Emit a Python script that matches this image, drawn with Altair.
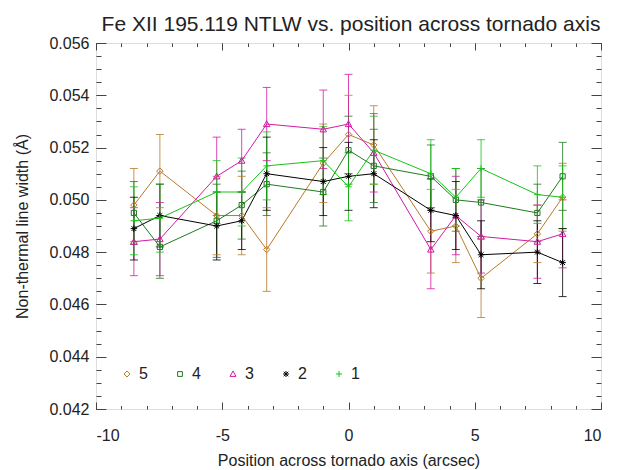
import altair as alt
import pandas as pd

# ---------------- data ----------------
positions = [-8.5, -7.47, -5.22, -4.23, -3.24, -1.0, 0.0, 1.0, 3.26, 4.25, 5.25, 7.48, 8.48]
series_names = ["5", "4", "3", "2", "1"]
series_colors = ["#B8792A", "#1E7B1E", "#D21AA5", "#000000", "#16C416"]

s5 = [0.0498, 0.0511, 0.0494, 0.0494, 0.0481, 0.0514, 0.0525, 0.0521, 0.0488, 0.0490, 0.0470, 0.0487, 0.0501]
e5 = [0.0014, 0.0014, 0.0015, 0.0015, 0.0016, 0.0015, 0.0015, 0.0015, 0.0016, 0.0014, 0.0015, 0.0011, 0.0013]
s4 = [0.0495, 0.0482, 0.0492, 0.0498, 0.0506, 0.0503, 0.0519, 0.0513, 0.0509, 0.0500, 0.0499, 0.0495, 0.0509]
e4 = [0.0012, 0.0012, 0.0014, 0.0013, 0.0012, 0.0013, 0.0013, 0.0014, 0.0012, 0.0012, 0.0013, 0.0011, 0.0013]
s3 = [0.0484, 0.0485, 0.0509, 0.0515, 0.0529, 0.0527, 0.0529, 0.0518, 0.0481, 0.0494, 0.0486, 0.0484, 0.0487]
e3 = [0.0013, 0.0014, 0.0015, 0.0012, 0.0014, 0.0015, 0.0019, 0.0015, 0.0015, 0.0015, 0.0014, 0.0014, 0.0013]
s2 = [0.0489, 0.0494, 0.0490, 0.0492, 0.0510, 0.0507, 0.0509, 0.0510, 0.0496, 0.0494, 0.0479, 0.0480, 0.0476]
e2 = [0.0012, 0.0012, 0.0013, 0.0011, 0.0014, 0.0013, 0.0013, 0.0013, 0.0012, 0.0013, 0.0013, 0.0012, 0.0013]
s1 = [0.0492, 0.0493, 0.0503, 0.0503, 0.0513, 0.0515, 0.0505, 0.0519, 0.0510, 0.0501, 0.0512, 0.0502, 0.0501]
e1 = [0.0013, 0.0013, 0.0012, 0.0013, 0.0013, 0.0013, 0.0013, 0.0013, 0.0013, 0.0011, 0.0011, 0.0011, 0.0012]

values = {"5": s5, "4": s4, "3": s3, "2": s2, "1": s1}
errors = {"5": e5, "4": e4, "3": e3, "2": e2, "1": e1}

x_major = [-10, -5, 0, 5, 10]
x_minor = list(range(-10, 11))
y_major = [0.042, 0.044, 0.046, 0.048, 0.050, 0.052, 0.054, 0.056]
y_minor = [round(0.042 + 0.0005 * i, 4) for i in range(29)]

TITLE = "Fe XII 195.119 NTLW vs. position across tornado axis"
X_TITLE = "Position across tornado axis (arcsec)"
Y_TITLE = "Non-thermal line width (Å)"

rows = []
for name in series_names:
    for xv, yv, ev in zip(positions, values[name], errors[name]):
        rows.append({"series": name, "x": xv, "y": yv, "lo": yv - ev, "hi": yv + ev})
df = pd.DataFrame(rows)

# ---------------- styling ----------------
W, H = 505, 366
FONT = "Liberation Sans"
TXT = "#222222"
AX = "#444444"

shape_paths = [
    "M0,-1L1,0L0,1L-1,0Z",                      # diamond
    "M-0.8,-0.8L0.8,-0.8L0.8,0.8L-0.8,0.8Z",    # square
    "M0,-1L1,0.8L-1,0.8Z",                       # triangle
    "M-1,0L1,0M0,-1L0,1M-0.75,-0.75L0.75,0.75M-0.75,0.75L0.75,-0.75",  # asterisk
    "M-1,0L1,0M0,-1L0,1",                        # plus
]

xscale = alt.Scale(domain=[-10, 10], nice=False, zero=False)
yscale = alt.Scale(domain=[0.042, 0.056], nice=False, zero=False)
cscale = alt.Scale(domain=series_names, range=series_colors)

legend = alt.Legend(
    title=None, orient="none", legendX=23, legendY=323, direction="horizontal",
    columns=5, columnPadding=24, padding=0, symbolSize=36, symbolStrokeWidth=1,
    labelFontSize=16, labelFont=FONT, labelColor=TXT, labelOffset=4,
)
color_leg = alt.Color("series:N", scale=cscale, legend=legend)
shape_leg = alt.Shape("series:N", scale=alt.Scale(domain=series_names, range=shape_paths), legend=legend)
color_plain = alt.Color("series:N", scale=cscale, legend=None)

x_main = alt.Axis(values=x_major, ticks=False, domain=False, grid=False, labelFontSize=16,
                  labelFont=FONT, labelColor=TXT, labelPadding=18,
                  labelExpr="datum.value < 0 ? '-' + abs(datum.value) : '' + datum.value",
                  title=X_TITLE, titleFont=FONT, titleFontSize=16,
                  titleFontWeight="normal", titleColor=TXT, titleY=56,
                  titleBaseline="alphabetic")
y_main = alt.Axis(values=y_major, format=".3f", ticks=False, domain=False, grid=False,
                  labelFontSize=16, labelFont=FONT, labelColor=TXT, labelPadding=7,
                  title=Y_TITLE, titleFont=FONT, titleFontSize=16,
                  titleFontWeight="normal", titleColor=TXT, titleX=-69,
                  titleBaseline="alphabetic")

base = alt.Chart(df)

bars = base.mark_rule(strokeWidth=1, opacity=0.8).encode(
    x=alt.X("x:Q", scale=xscale, axis=x_main),
    y=alt.Y("lo:Q", scale=yscale, axis=y_main),
    y2="hi:Q",
    color=color_plain,
)
cap_lo = base.mark_tick(orient="horizontal", size=8, thickness=1, opacity=0.8).encode(
    x=alt.X("x:Q", scale=xscale, axis=None),
    y=alt.Y("lo:Q", scale=yscale, axis=None),
    color=color_plain,
)
cap_hi = base.mark_tick(orient="horizontal", size=8, thickness=1, opacity=0.8).encode(
    x=alt.X("x:Q", scale=xscale, axis=None),
    y=alt.Y("hi:Q", scale=yscale, axis=None),
    color=color_plain,
)
lines = base.mark_line(strokeWidth=1).encode(
    x=alt.X("x:Q", scale=xscale, axis=None),
    y=alt.Y("y:Q", scale=yscale, axis=None),
    color=color_plain,
    detail="series:N",
)
points = base.mark_point(filled=False, size=42, strokeWidth=1, opacity=1).encode(
    x=alt.X("x:Q", scale=xscale, axis=None),
    y=alt.Y("y:Q", scale=yscale, axis=None),
    color=color_leg,
    shape=shape_leg,
)


def tick_axis(orient, offset, vals, size):
    return alt.Axis(orient=orient, offset=offset, values=vals, tickSize=size, labels=False,
                    domain=False, grid=False, title=None, tickColor=AX, tickWidth=1)


def tick_layer(xaxis, yaxis):
    return base.mark_point(opacity=0).encode(
        x=alt.X("x:Q", scale=xscale, axis=xaxis),
        y=alt.Y("y:Q", scale=yscale, axis=yaxis),
    )


t1 = tick_layer(tick_axis("top", -H, x_major, 7), tick_axis("right", -W, y_major, 10))
t2 = tick_layer(tick_axis("top", -H, x_minor, 3.5), tick_axis("right", -W, y_minor, 5))
t3 = tick_layer(tick_axis("bottom", -H, x_major, 7), tick_axis("left", -W, y_major, 10))
t4 = tick_layer(tick_axis("bottom", -H, x_minor, 3.5), tick_axis("left", -W, y_minor, 5))

# chart title carried by a label-less top axis
title_axis = alt.Axis(orient="top", offset=0, ticks=False, labels=False, domain=False, grid=False,
                      title=TITLE, titleFont=FONT, titleFontSize=21, titleFontWeight="normal",
                      titleColor=TXT, titleX=W / 2 + 2, titleY=-13, titleAlign="center",
                      titleBaseline="alphabetic")
t5 = tick_layer(title_axis, None)

chart = (
    alt.layer(bars, cap_lo, cap_hi, lines, points, t1, t2, t3, t4, t5)
    .resolve_axis(x="independent", y="independent")
    .resolve_scale(color="independent", shape="independent")
    .properties(
        width=W, height=H,
        autosize=alt.AutoSizeParams(type="none"),
        padding={"left": 88, "top": 35, "right": 10, "bottom": 65},
    )
    .configure_view(stroke=AX, strokeWidth=1)
    .configure(background="white")
)

chart.save("out.html", embed_options={"renderer": "svg", "actions": False})
